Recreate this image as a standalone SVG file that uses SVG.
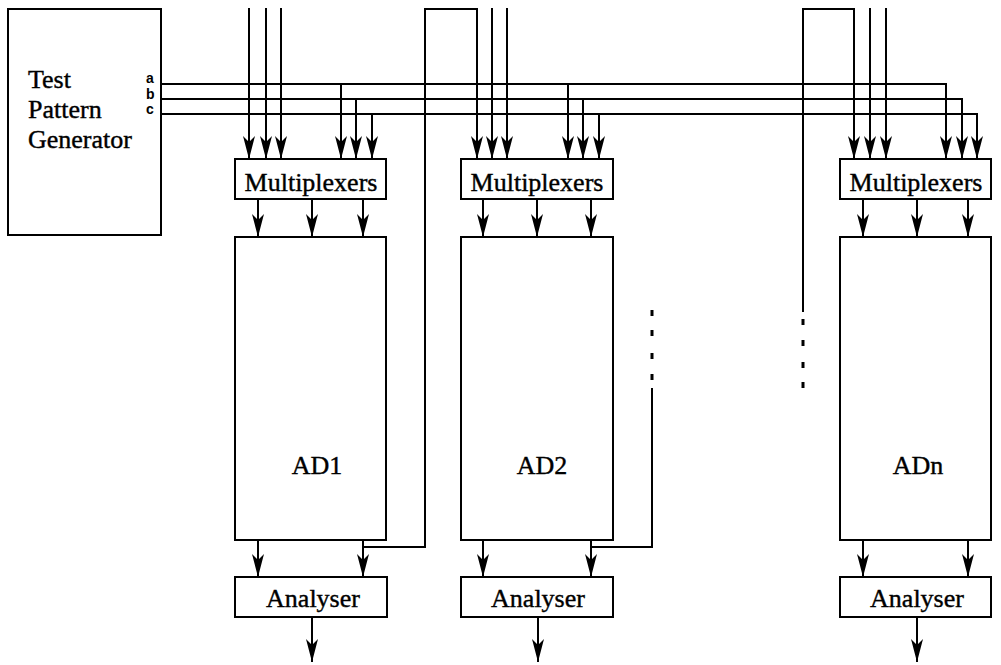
<svg xmlns="http://www.w3.org/2000/svg" width="1001" height="665" viewBox="0 0 1001 665">
<style>
.box{fill:#fff;stroke:#000;stroke-width:2}
.ln{fill:none;stroke:#000;stroke-width:2}
.arr{fill:none;stroke:#000;stroke-width:2;marker-end:url(#ah)}
.dot{stroke:#000;stroke-width:3}
.t{font-family:"Liberation Serif","Times New Roman",serif;font-size:26px;fill:#000;stroke:#000;stroke-width:0.4}
.s{font-family:"Liberation Sans",Arial,sans-serif;font-size:14px;font-weight:bold;fill:#000}
</style>
<defs>
<marker id="ah" markerUnits="userSpaceOnUse" viewBox="-25 -7 26 14" markerWidth="26" markerHeight="14" refX="0" refY="0" orient="auto">
<path d="M0,0 L-23,-6 L-17,0 L-23,6 Z" fill="#000"/>
</marker>
</defs>
<rect width="1001" height="665" fill="#fff"/>

<g id="connectors">
<path class="arr" d="M161,84 H946 V159"/>
<path class="arr" d="M161,99 H962 V159"/>
<path class="arr" d="M161,114 H977 V159"/>
<path class="arr" d="M341,84 V159"/>
<path class="arr" d="M356,99 V159"/>
<path class="arr" d="M372,114 V159"/>
<path class="arr" d="M568,84 V159"/>
<path class="arr" d="M583,99 V159"/>
<path class="arr" d="M599,114 V159"/>
<path class="arr" d="M249,8 V159"/>
<path class="arr" d="M266,8 V159"/>
<path class="arr" d="M281,8 V159"/>
<path class="arr" d="M492,8 V159"/>
<path class="arr" d="M507,8 V159"/>
<path class="arr" d="M870,8 V159"/>
<path class="arr" d="M886,8 V159"/>
<path class="arr" d="M363,547 H425 V9 H477 V159"/>
<path class="ln" d="M591,547 H652 V388"/>
<line class="dot" x1="652" y1="374" x2="652" y2="380"/>
<line class="dot" x1="652" y1="353" x2="652" y2="359"/>
<line class="dot" x1="652" y1="330" x2="652" y2="336"/>
<line class="dot" x1="652" y1="310" x2="652" y2="316"/>
<path class="arr" d="M803,312 V9 H854 V159"/>
<line class="dot" x1="803" y1="319" x2="803" y2="325"/>
<line class="dot" x1="803" y1="340" x2="803" y2="346"/>
<line class="dot" x1="803" y1="362" x2="803" y2="368"/>
<line class="dot" x1="803" y1="382" x2="803" y2="388"/>
<path class="arr" d="M258,199 V237"/>
<path class="arr" d="M312,199 V237"/>
<path class="arr" d="M363,199 V237"/>
<path class="arr" d="M483,199 V237"/>
<path class="arr" d="M537,199 V237"/>
<path class="arr" d="M591,199 V237"/>
<path class="arr" d="M863,199 V237"/>
<path class="arr" d="M917,199 V237"/>
<path class="arr" d="M968,199 V237"/>
<path class="arr" d="M258,540 V577"/>
<path class="arr" d="M363,540 V577"/>
<path class="arr" d="M483,540 V577"/>
<path class="arr" d="M591,540 V577"/>
<path class="arr" d="M863,540 V577"/>
<path class="arr" d="M968,540 V577"/>
<path class="arr" d="M312,617 V662"/>
<path class="arr" d="M538,617 V662"/>
<path class="arr" d="M917,617 V662"/>
</g>

<g id="tpg">
<rect class="box" x="8" y="9" width="153" height="226"/>
<text class="t" x="28" y="88">Test</text>
<text class="t" x="28" y="118">Pattern</text>
<text class="t" x="28" y="148">Generator</text>
<text class="s" x="146" y="83">a</text>
<text class="s" x="146" y="99">b</text>
<text class="s" x="146" y="114">c</text>
</g>

<g id="mux1"><rect class="box" x="235" y="159" width="151" height="40"/><text class="t" x="311" y="191" text-anchor="middle">Multiplexers</text></g>
<g id="mux2"><rect class="box" x="461" y="159" width="152" height="40"/><text class="t" x="537" y="191" text-anchor="middle">Multiplexers</text></g>
<g id="muxn"><rect class="box" x="840" y="159" width="151" height="40"/><text class="t" x="916" y="191" text-anchor="middle">Multiplexers</text></g>

<g id="ad1"><rect class="box" x="235" y="237" width="151" height="303"/><text class="t" x="317" y="474" text-anchor="middle">AD1</text></g>
<g id="ad2"><rect class="box" x="461" y="237" width="152" height="303"/><text class="t" x="542" y="474" text-anchor="middle">AD2</text></g>
<g id="adn"><rect class="box" x="840" y="237" width="151" height="303"/><text class="t" x="918" y="474" text-anchor="middle">ADn</text></g>

<g id="an1"><rect class="box" x="235" y="577" width="152" height="40"/><text class="t" x="313" y="607" text-anchor="middle">Analyser</text></g>
<g id="an2"><rect class="box" x="461" y="577" width="152" height="40"/><text class="t" x="538" y="607" text-anchor="middle">Analyser</text></g>
<g id="ann"><rect class="box" x="840" y="577" width="151" height="40"/><text class="t" x="917" y="607" text-anchor="middle">Analyser</text></g>
</svg>
